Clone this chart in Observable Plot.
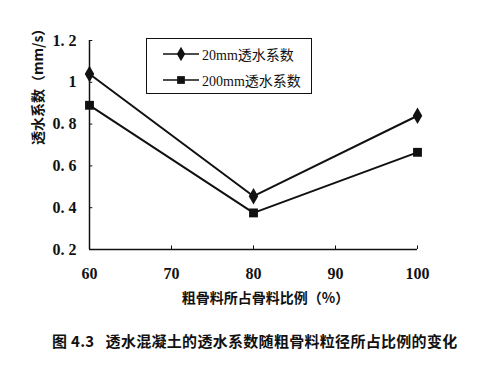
<!DOCTYPE html>
<html><head><meta charset="utf-8">
<script src="https://cdn.jsdelivr.net/npm/d3@7"></script>
<script src="https://cdn.jsdelivr.net/npm/@observablehq/plot@0.6"></script>
<style>
body{margin:0;background:#fff;width:488px;height:367px;position:relative;overflow:hidden;}
#cap{position:absolute;left:52px;top:330px;font:bold 15px "Noto Sans CJK SC","Liberation Serif",serif;color:#111;white-space:nowrap;letter-spacing:0.3px;}
#legend{position:absolute;left:146px;top:38px;width:166px;height:56px;border:1.5px solid #111;box-sizing:border-box;background:#fff;font:14px "Liberation Serif","Noto Sans CJK SC",serif;color:#111;}
.row{position:absolute;left:16px;display:flex;align-items:center;}
.row span{margin-left:3px;}
#chart svg text{font-family:"Liberation Serif",serif;}
#chart svg .cjk text, #chart svg text.cjk{font-family:"Noto Sans CJK SC",serif;}
</style></head>
<body>
<div id="chart"></div>
<div id="legend"></div>
<div id="cap">图 4.3&nbsp;&nbsp;&nbsp;透水混凝土的透水系数随粗骨料粒径所占比例的变化</div>
<script>
const ratio = [60, 80, 100];
const k20 = [1.04, 0.455, 0.84];
const k200 = [0.89, 0.375, 0.665];
const seriesNames = ["20mm透水系数", "200mm透水系数"];
const yTicks = [0.2, 0.4, 0.6, 0.8, 1, 1.2];
const xTicks = [60, 70, 80, 90, 100];

const data = [];
ratio.forEach((r, i) => {
  data.push({x: r, y: k20[i], s: seriesNames[0]});
  data.push({x: r, y: k200[i], s: seriesNames[1]});
});

const plot = Plot.plot({
  width: 488, height: 320,
  marginLeft: 89, marginRight: 71, marginTop: 40, marginBottom: 71,
  style: {fontFamily: "'Liberation Serif', serif", background: "#fff", color: "#111"},
  x: {type: "linear", domain: [60, 100]},
  y: {type: "linear", domain: [0.2, 1.2]},
  symbol: {domain: seriesNames, range: ["diamond", "square"]},
  marks: [
    Plot.axisY({ticks: yTicks, tickSize: 0, tickPadding: 13, tickFormat: d => String(d).replace(".", ". "), fontSize: 16, fontWeight: "bold", fontFamily: "'Liberation Serif', serif", label: null}),
    Plot.axisX({ticks: xTicks, tickSize: 0, tickPadding: 18, fontSize: 16, fontWeight: "bold", fontFamily: "'Liberation Serif', serif", label: null}),
    Plot.ruleX([60], {y1: 0.2, y2: 1.2, stroke: "#111", strokeWidth: 1.5}),
    Plot.ruleY([0.2], {x1: 60, x2: 100, stroke: "#111", strokeWidth: 1.5}),
    Plot.ruleX(xTicks.slice(1), {y1: 0.2, y2: 0.217, stroke: "#111", strokeWidth: 1}),
    Plot.ruleY(yTicks.slice(1), {x1: 60, x2: 60.4, stroke: "#111", strokeWidth: 1}),
    Plot.line(data, {x: "x", y: "y", z: "s", stroke: "#111", strokeWidth: 2}),
    Plot.dot(data, {x: "x", y: "y", symbol: "s", fill: "#111", stroke: "none", r: 5}),
    Plot.text(["透水系数（mm/s）"], {frameAnchor: "left", dx: -51, rotate: -90, fontSize: 14, fontWeight: "bold", className: "cjk"}),
    Plot.text(["粗骨料所占骨料比例（%）"], {frameAnchor: "bottom", dx: 12, dy: 53, fontSize: 14, fontWeight: "bold", className: "cjk"})
  ]
});
document.getElementById("chart").appendChild(plot);

const leg = document.getElementById("legend");
seriesNames.forEach((n, i) => {
  const row = document.createElement("div");
  row.className = "row";
  row.style.top = (i === 0 ? 5 : 31) + "px";
  const sym = d3.symbol(i === 0 ? d3.symbolDiamond : d3.symbolSquare, 60)();
  row.innerHTML = `<svg width="36" height="14"><line x1="0" x2="36" y1="7" y2="7" stroke="#111" stroke-width="1.6"/><path transform="translate(18,7)" d="${sym}" fill="#111"/></svg><span>${n}</span>`;
  leg.appendChild(row);
});
</script>
</body></html>
